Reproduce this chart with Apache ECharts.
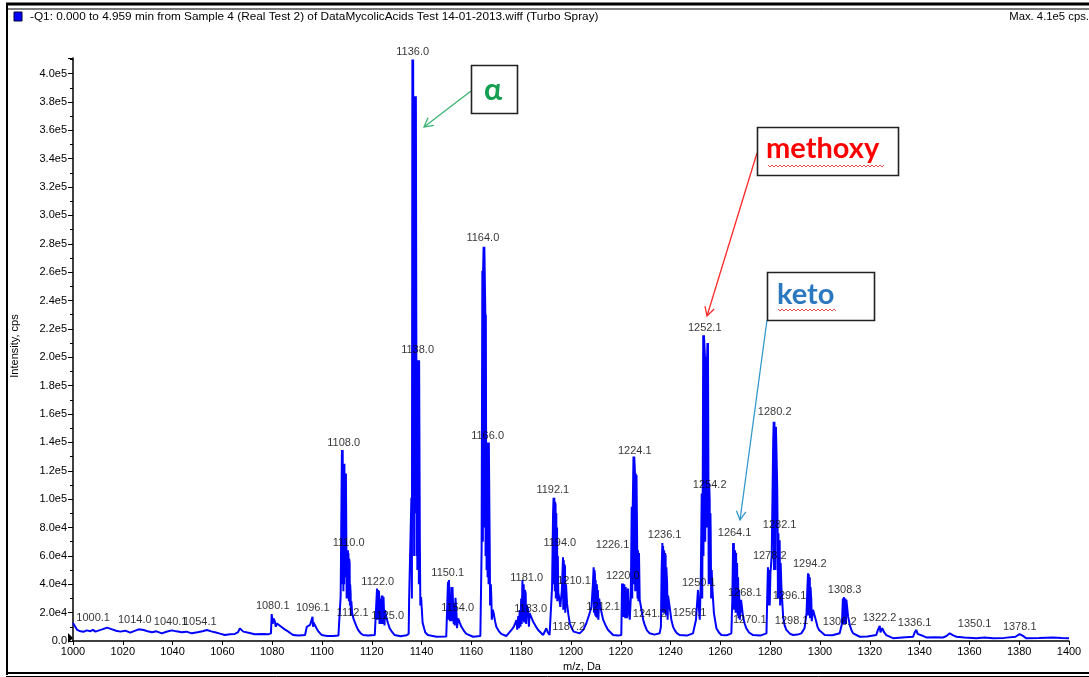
<!DOCTYPE html>
<html>
<head>
<meta charset="utf-8">
<script src="https://cdn.jsdelivr.net/npm/echarts@6/dist/echarts.min.js"></script>
<style>
  html, body { margin: 0; padding: 0; background: #ffffff; }
  #chart { width: 1089px; height: 677px; }
</style>
</head>
<body>
<div id="chart"></div>
<script>
// ---------- DATA ----------
const headerText = "-Q1: 0.000 to 4.959 min from Sample 4 (Real Test 2) of DataMycolicAcids Test 14-01-2013.wiff (Turbo Spray)";
const maxText = "Max. 4.1e5 cps.";
const xAxisTitle = "m/z, Da";
const yAxisTitle = "Intensity, cps";
const xTicks = { min: 1000, max: 1400, step: 20 };
const yTicks = { min: 0, max: 411000, step: 20000 };

// profile spectrum: [m/z, intensity in thousands of cps]
const spectrumPoints = [
  [1000.0,12.7],[1000.4,11.3],[1001.7,7.8],[1003,6.8],[1004.4,6.6],[1005.5,7.5],[1007,6.9],[1008,7.8],[1009,6.6],
  [1010.5,7.5],[1011.7,8.2],[1013.7,9.4],[1015.7,8.2],[1017.3,7.2],[1019,6.6],[1021,7.3],[1023,5.9],[1024.5,7],
  [1026.4,8.2],[1028.4,7.8],[1030,6.8],[1031.7,6.2],[1033.5,6.8],[1035.7,5.4],[1037.5,6.5],[1039.7,7.5],[1041.5,6.8],
  [1043.7,6.2],[1045.5,6.6],[1047.7,5.4],[1050,6.2],[1052,6.9],[1053.8,7.8],[1055.5,6.8],[1057,6.2],[1059,5.2],
  [1061,4.2],[1063,4.8],[1065,5],[1066.3,6.2],[1067,8.9],[1068.4,6.6],[1070.5,5.8],[1073,4.7],[1076,4.9],[1078.4,4.7],
  [1079.5,5.4],[1079.8,19],[1080.2,12],[1080.5,16],[1081.1,13.6],[1081.4,10],[1081.8,12.4],[1082.5,11.3],[1083.5,10.2],
  [1084.5,8.9],[1085.5,7.6],[1086.5,6.6],[1087.5,5.3],[1088.5,4.2],[1090.5,3.8],[1093.2,4.2],[1093.9,10],[1094.6,9],
  [1095.2,11.3],[1095.7,10.2],[1096.2,17],[1096.4,10],[1096.6,13],[1097,12.5],[1097.8,9],[1098.6,6.6],[1099.9,4.2],
  [1102,3.6],[1104.5,3.5],[1106.6,3.8],[1107.4,4.2],[1107.5,32],[1107.9,32],[1108.0,134.6],[1108.2,40],[1108.3,134.6],
  [1108.5,134.6],[1108.6,35],[1108.7,125],[1108.9,40],[1109.0,125],[1109.2,45],[1109.3,118],[1109.5,50],[1109.6,118],
  [1109.8,64],[1109.9,30],[1110.0,64],[1110.2,32],[1110.4,64],[1110.5,30],[1110.6,62],[1110.8,28],[1110.9,58],
  [1111.1,55],[1111.2,25],[1111.3,40],[1111.5,34],[1111.6,18],[1111.8,28],[1112.1,19.7],[1112.6,16],[1113.1,13.6],
  [1113.8,10.5],[1114.5,7.8],[1115.5,5.5],[1116.5,4.2],[1118.5,3.8],[1121.2,4.2],[1121.9,4.5],[1122.1,37],[1122.3,15],
  [1122.5,36],[1122.7,15],[1122.9,35.4],[1123.1,12],[1123.3,30],[1123.6,26.5],[1123.8,12],[1124.0,32],[1124.2,13],
  [1124.3,32],[1124.5,12],[1124.7,31],[1124.9,30.5],[1125.1,11],[1125.3,21.8],[1125.8,17],[1126.5,12.5],[1127.2,8.9],
  [1128.2,6.2],[1129.2,4.2],[1131.5,3.4],[1133.9,4],[1134.8,5],[1135.0,30.5],[1135.7,30.5],[1135.9,101],[1136.1,30],
  [1136.3,410],[1136.5,100],[1136.6,410],[1136.9,410],[1137.0,60],[1137.1,384],[1137.3,120],[1137.4,384],[1137.6,90],
  [1137.7,384],[1137.8,384],[1137.9,198],[1138.0,60],[1138.1,171],[1138.3,50],[1138.4,198],[1138.6,70],[1138.7,198],
  [1138.9,40],[1139.0,198],[1139.1,198],[1139.3,69],[1139.5,25],[1139.8,31],[1140.4,13],[1141.0,9],[1141.5,6],
  [1142.5,4.2],[1143,3.5],[1146,3],[1149.9,3.2],[1150.4,4.2],[1150.6,41.8],[1150.8,15],[1151.0,43],[1151.2,43],
  [1151.4,14],[1151.6,29],[1151.8,14],[1152.0,38],[1152.2,14],[1152.4,38],[1152.7,38],[1152.9,12],[1153.1,26.5],
  [1153.3,11],[1153.6,30.5],[1154.0,19.7],[1154.2,9],[1154.7,16],[1155.3,13],[1156.0,10],[1157.0,7.2],[1158.0,5],
  [1160.7,3],[1163.6,3.5],[1164.0,4.2],[1164.1,64],[1164.3,64],[1164.4,261],[1164.6,70],[1164.7,261],[1164.9,278],
  [1165.0,80],[1165.2,278],[1165.5,278],[1165.6,230],[1165.7,60],[1165.8,230],[1165.9,140],[1166.1,50],[1166.3,140],
  [1166.5,45],[1166.7,140],[1166.9,40],[1167.0,140],[1167.2,140],[1167.4,57],[1167.5,25],[1167.8,40],[1168.0,31],
  [1168.2,15],[1168.6,22],[1169.0,19],[1169.5,14],[1170.0,10],[1171,7],[1172.0,5],[1174.0,3.5],[1176.1,7.8],[1177.0,10],
  [1178.1,14.8],[1178.4,8],[1178.8,17.5],[1179.1,9],[1179.4,21.8],[1179.7,10],[1180.0,30],[1180.2,12],[1180.5,43],
  [1180.7,14],[1181.0,40],[1181.2,13],[1181.5,36],[1181.8,33.5],[1182.0,12],[1182.3,25],[1182.8,22],[1183.1,10],
  [1183.4,19.7],[1184.8,13.6],[1185.8,10.5],[1186.8,7.8],[1188.8,4.2],[1189.4,5.5],[1190.1,9],[1190.7,6],[1191.4,4.2],
  [1192.2,4.5],[1192.4,38],[1192.8,90],[1193.0,101],[1193.1,40],[1193.3,101],[1193.5,35],[1193.6,98],[1193.8,96],
  [1193.9,30],[1194.1,90],[1194.2,30],[1194.4,80],[1194.5,28],[1194.7,60],[1194.9,34],[1195.3,30],[1195.7,24],
  [1196.3,35],[1196.8,59],[1196.9,22],[1197.1,57],[1197.2,22],[1197.4,54],[1197.6,52],[1197.7,20],[1198.0,40],
  [1198.4,26.5],[1199.0,18],[1199.5,12.5],[1200.3,9],[1201.1,6.6],[1203.5,5.4],[1205.0,8],[1206.2,12.7],[1207.2,18],
  [1208.2,24],[1208.8,40],[1209.1,52],[1209.2,20],[1209.4,50],[1209.6,47],[1209.7,18],[1209.9,43],[1210.1,17],
  [1210.4,40],[1210.6,16],[1210.8,36],[1211.0,15],[1211.3,30],[1211.8,24],[1212.4,19],[1212.9,15],[1213.9,11],
  [1214.9,7.8],[1216.9,4.2],[1219.0,3.8],[1220.2,4.2],[1220.5,40.6],[1220.7,18],[1220.9,40.6],[1221.1,17],[1221.4,40],
  [1221.6,40],[1221.8,16],[1222.0,38],[1222.3,38],[1222.5,16],[1222.9,37],[1223.3,20],[1223.6,15],[1224.0,30],
  [1224.4,94.6],[1224.6,30],[1224.8,94.6],[1225.1,130],[1225.2,40],[1225.4,130],[1225.5,130],[1225.7,118],[1225.8,35],
  [1226.0,118],[1226.1,35],[1226.3,117],[1226.6,64],[1226.7,30],[1226.9,64],[1227.1,28],[1227.3,62],[1227.6,29],
  [1228.3,22],[1229.0,15],[1229.6,11.3],[1230.5,7.5],[1231.6,5.4],[1233.5,4.5],[1235.6,5.4],[1236.1,10],[1236.4,50],
  [1236.7,69],[1236.8,20],[1237.0,67],[1237.2,20],[1237.4,64],[1237.6,20],[1237.8,62],[1238.0,60],[1238.1,18],
  [1238.3,52],[1238.6,40.6],[1238.8,15],[1239.0,32],[1239.4,26.8],[1240.3,15],[1241.0,10],[1241.6,7.8],[1242.5,5.5],
  [1243.7,4.2],[1246.5,3.8],[1249.0,5.4],[1250.2,15],[1251.0,36],[1251.3,25],[1251.7,15],[1252.1,40],[1252.5,104],
  [1252.7,30],[1252.9,104],[1253.1,215.6],[1253.2,60],[1253.4,215.6],[1253.6,215.6],[1253.8,200],[1253.9,70],
  [1254.1,200],[1254.4,193],[1254.5,80],[1254.6,193],[1254.8,210],[1254.9,90],[1255.0,210],[1255.2,111],[1255.3,40],
  [1255.5,111],[1255.7,99],[1255.8,40],[1256.0,90],[1256.1,76],[1256.3,30],[1256.5,50],[1256.8,36],[1257.4,19.7],
  [1258.4,9],[1259.4,6],[1260.4,4.2],[1262.5,4],[1264.4,5.4],[1264.8,30],[1265.1,69],[1265.2,22],[1265.4,69],
  [1265.6,22],[1265.9,64],[1266.1,20],[1266.3,62],[1266.5,20],[1266.7,55],[1266.9,18],[1267.1,45],[1267.3,16],
  [1267.5,36],[1267.8,15],[1268.3,29],[1269.1,17],[1269.8,12],[1270.4,9],[1271.5,6],[1273.1,4.2],[1276,3.8],
  [1278.5,5.4],[1278.8,30],[1279.1,52],[1279.3,25],[1279.6,50],[1279.8,25],[1280.1,48],[1280.6,60],[1280.9,99],
  [1281.2,140],[1281.4,154.5],[1281.5,50],[1281.7,154.5],[1282.0,154.5],[1282.1,50],[1282.3,151],[1282.5,151],
  [1282.8,110],[1283.0,76],[1283.1,30],[1283.3,76],[1283.5,30],[1283.8,71],[1284.0,25],[1284.2,55],[1284.5,38],
  [1285.2,17],[1285.8,11],[1286.5,7.8],[1288,5],[1289.2,4.2],[1291,4.5],[1292.5,5.4],[1293.8,9],[1294.6,20],
  [1295.0,40],[1295.2,47.7],[1295.3,18],[1295.5,47],[1295.7,18],[1295.9,45],[1296.0,16],[1296.2,38],[1296.5,29],
  [1296.7,14],[1297.2,22],[1298.3,15],[1299.0,10],[1299.6,7.8],[1301.9,4.2],[1305,4],[1307.9,5.5],[1308.8,12],
  [1309.2,30],[1309.4,12],[1309.6,31],[1309.8,12],[1310.2,30],[1310.4,12],[1310.6,29],[1311.3,17],[1312,11],
  [1312.6,7.8],[1313.3,5.4],[1316.0,3],[1319,3.2],[1322.6,4.2],[1323.3,8],[1324.0,10.6],[1324.3,6],[1325.0,9],
  [1325.8,6],[1326.6,4.2],[1329.3,2],[1333,2.5],[1337.4,3],[1338.0,6],[1338.7,7.8],[1339.2,5],[1340.0,5.4],
  [1341.5,3.5],[1342.7,2.5],[1346,2.6],[1349.4,2.5],[1350.8,3.5],[1352.1,5.4],[1353.5,4],[1354.8,3],[1358,2.4],
  [1362.8,2],[1366,2.5],[1369.5,2],[1374,2.2],[1378.5,3],[1380.2,4.9],[1381.5,3.6],[1382.9,1.9],[1388,2.1],
  [1393.6,2.5],[1397,2.2],[1400,2]
];

// peak annotations: [text, m/z where the text sits, intensity (k cps) where the text sits]
const peakLabels = [
  ["1000.1",1008.1,16.2],["1014.0",1024.8,14.8],["1040.1",1039.2,13.4],["1054.1",1050.9,13.4],
  ["1080.1",1080.2,24.7],["1096.1",1096.3,23.3],["1112.1",1112.3,19.7],["1125.0",1126.4,17.6],
  ["1154.0",1154.5,23.3],["1183.0",1183.8,22.5],["1187.2",1199.1,9.9],["1108.0",1108.7,139.5],
  ["1110.0",1110.7,69],["1122.0",1122.4,41.6],["1150.1",1150.5,47.9],["1166.0",1166.5,144.4],
  ["1181.0",1182.2,44.4],["1192.1",1192.7,106.4],["1194.0",1195.5,69],["1210.1",1201.2,42.5],
  ["1212.1",1212.9,24],["1220.0",1220.8,45.8],["1224.1",1225.6,133.9],["1226.1",1216.7,67.6],
  ["1236.1",1237.6,74.7],["1241.2",1231.6,19],["1250.1",1251.3,40.9],["1252.1",1253.7,220.5],
  ["1254.2",1255.7,109.9],["1256.1",1247.6,19.7],["1264.1",1265.7,76.1],["1268.1",1269.8,33.8],
  ["1270.1",1271.8,14.8],["1278.2",1279.8,59.9],["1280.2",1281.8,161.4],["1282.1",1283.8,81.7],
  ["1294.2",1295.9,54.3],["1296.1",1287.8,31.7],["1298.1",1288.6,14.1],["1308.3",1309.9,35.9],
  ["1306.2",1307.9,13.4],["1322.2",1323.9,16.2],["1336.1",1338.0,12.7],["1350.1",1362.1,12.0],
  ["1378.1",1380.2,9.9],["1136.0",1136.4,415],["1138.0",1138.4,205],["1164.0",1164.6,284]
];

// ---------- CHART ----------
const chart = echarts.init(document.getElementById('chart'), null, { renderer: 'canvas', width: 1089, height: 677 });
const FONT = "'Liberation Sans', Arial, sans-serif";

function yFmt(v) {
  if (v === 0) return '0.0';
  if (v % 20000 !== 0) return '';
  if (v < 100000) return (v / 10000).toFixed(1) + 'e4';
  return (v / 100000).toFixed(1) + 'e5';
}

function arrowHead(x1, y1, x2, y2, len, ang) {
  const t = Math.atan2(y2 - y1, x2 - x1);
  return [
    [x2 - len * Math.cos(t - ang), y2 - len * Math.sin(t - ang)],
    [x2, y2],
    [x2 - len * Math.cos(t + ang), y2 - len * Math.sin(t + ang)]
  ];
}
function squiggle(x0, x1, y0) {
  const pts = [];
  let i = 0;
  for (let x = x0; x <= x1; x += 2, i++) pts.push([x, y0 + (i % 2 ? 2 : 0)]);
  return pts;
}
function arrow(x1, y1, x2, y2, color) {
  return [
    { type: 'line', shape: { x1, y1, x2, y2 }, style: { stroke: color, lineWidth: 1.3 } },
    { type: 'polyline', shape: { points: arrowHead(x1, y1, x2, y2, 10, 0.5) }, style: { stroke: color, lineWidth: 1.3, fill: null } }
  ];
}
function annotBox(x, y, w, h, text, tx, ty, color, size, squig) {
  const els = [
    { type: 'rect', shape: { x, y, width: w, height: h }, style: { fill: '#fff', stroke: '#222', lineWidth: 1.6 }, z: 50 },
    { type: 'text', x: tx, y: ty, style: { text, fill: color, font: 'bold ' + size + 'px Lato, "Open Sans", sans-serif', textAlign: 'left', textVerticalAlign: 'middle' }, z: 51 }
  ];
  if (squig) els.push({ type: 'polyline', shape: { points: squiggle(squig[0], squig[1], squig[2]) }, style: { stroke: '#e02020', lineWidth: 0.8, fill: null }, z: 51 });
  return els;
}

const graphics = [
  // outer frame
  { type: 'line', shape: { x1: 6, y1: 4, x2: 1089, y2: 4 }, style: { stroke: '#000', lineWidth: 3 } },
  { type: 'line', shape: { x1: 6, y1: 9, x2: 1089, y2: 9 }, style: { stroke: '#000', lineWidth: 1 } },
  { type: 'line', shape: { x1: 7, y1: 3, x2: 7, y2: 675 }, style: { stroke: '#000', lineWidth: 2 } },
  { type: 'line', shape: { x1: 6, y1: 673, x2: 1089, y2: 673 }, style: { stroke: '#000', lineWidth: 2 } },
  { type: 'line', shape: { x1: 6, y1: 676.5, x2: 1089, y2: 676.5 }, style: { stroke: '#000', lineWidth: 1 } },
  // header
  { type: 'rect', shape: { x: 14, y: 12, width: 8, height: 9 }, style: { fill: '#0000ff', stroke: '#000033', lineWidth: 1 } },
  { type: 'text', x: 30, y: 17, style: { text: headerText, font: '11.8px ' + FONT, fill: '#000', textVerticalAlign: 'middle' } },
  { type: 'text', x: 1089, y: 17, style: { text: maxText, font: '11.3px ' + FONT, fill: '#000', textAlign: 'right', textVerticalAlign: 'middle' } },
  // axis titles
  { type: 'text', x: 15, y: 346, rotation: Math.PI / 2, style: { text: yAxisTitle, font: '11px ' + FONT, fill: '#000', textAlign: 'center', textVerticalAlign: 'middle' } },
  { type: 'text', x: 582, y: 667, style: { text: xAxisTitle, font: '11px ' + FONT, fill: '#000', textAlign: 'center', textVerticalAlign: 'middle' } },
  // origin marker
  { type: 'polygon', shape: { points: [[68, 633], [73, 638], [68, 643]] }, style: { fill: '#000' } }
]
  .concat(arrow(471, 91, 424, 127, '#3cb371'))
  .concat(arrow(757, 153, 707, 316, '#ff2a2a'))
  .concat(arrow(767, 320, 740, 520, '#3399cc'))
  .concat(annotBox(471.5, 65.5, 46, 48, 'α', 484, 90, '#14a050', 30, null))
  .concat(annotBox(757.5, 127.5, 141, 48, 'methoxy', 766, 149, '#ff0000', 29, [768, 885, 165]))
  .concat(annotBox(767.5, 272.5, 107, 48, 'keto', 777, 295, '#2a78c0', 29, [778, 837, 309]));

const option = {
  animation: false,
  backgroundColor: '#ffffff',
  grid: { left: 73, right: 20, top: 58, bottom: 36 },
  xAxis: {
    type: 'value', min: xTicks.min, max: xTicks.max, interval: xTicks.step,
    axisLine: { show: true, lineStyle: { color: '#000', width: 1.5 } },
    axisTick: { show: true, length: 4, lineStyle: { color: '#000' } },
    axisLabel: { fontSize: 11, color: '#000', fontFamily: FONT, margin: 5, formatter: v => String(v) },
    splitLine: { show: false }
  },
  yAxis: {
    type: 'value', min: yTicks.min, max: yTicks.max, interval: yTicks.step,
    axisLine: { show: true, lineStyle: { color: '#000', width: 1.5 } },
    axisTick: { show: true, length: 5, lineStyle: { color: '#000' } },
    minorTick: { show: true, splitNumber: 2, length: 3, lineStyle: { color: '#000' } },
    axisLabel: { fontSize: 11, color: '#000', fontFamily: FONT, margin: 6, formatter: yFmt, showMaxLabel: false },
    splitLine: { show: false }
  },
  series: [
    {
      type: 'line',
      data: spectrumPoints.map(p => [p[0], p[1] * 1000]),
      showSymbol: false,
      lineStyle: { color: '#0000ff', width: 2 },
      itemStyle: { color: '#0000ff' },
      z: 3
    },
    {
      type: 'scatter',
      clip: false,
      symbolSize: 1,
      itemStyle: { color: 'rgba(0,0,0,0)' },
      label: {
        show: true, position: 'inside', formatter: p => p.name,
        fontSize: 11, color: '#000', fontFamily: FONT
      },
      data: peakLabels.map(l => ({ name: l[0], value: [l[1], l[2] * 1000] })),
      z: 10
    }
  ],
  graphic: graphics
};
chart.setOption(option);
</script>
</body>
</html>
